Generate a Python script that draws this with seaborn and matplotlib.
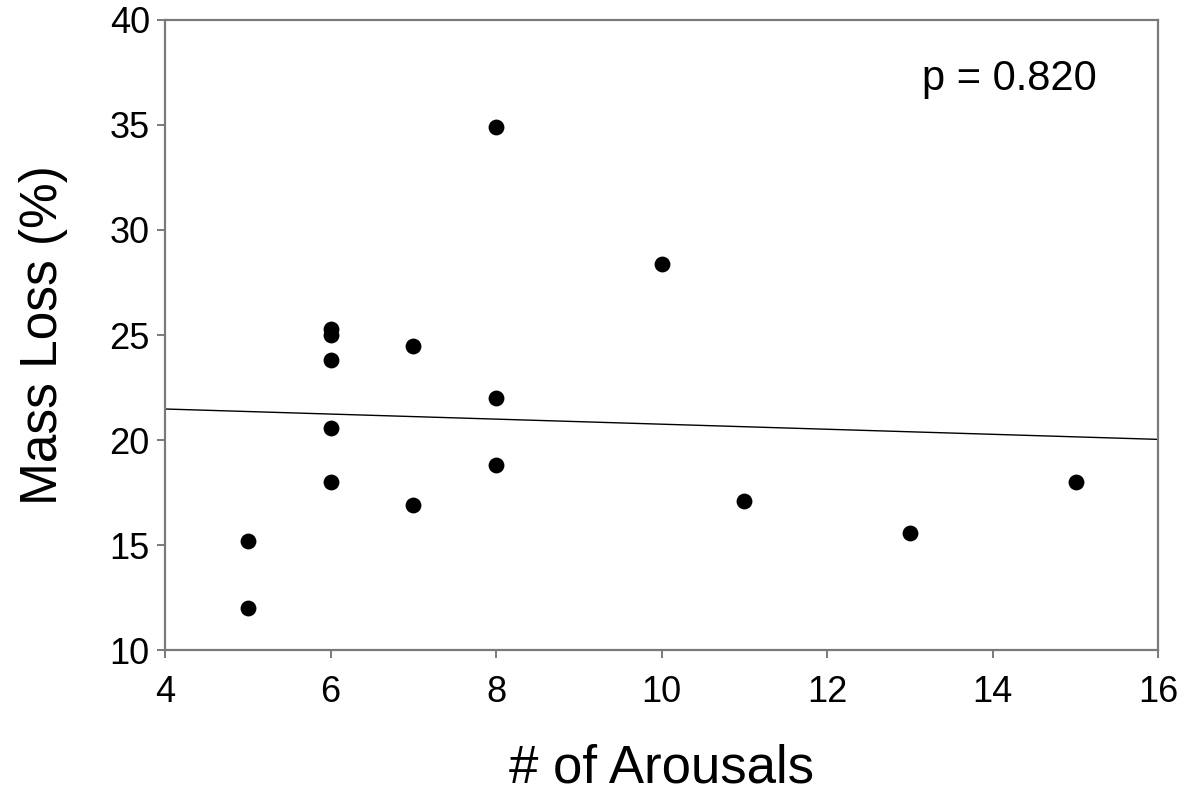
import numpy as np
import pandas as pd
import matplotlib
matplotlib.use('Agg')
import matplotlib.pyplot as plt
import seaborn as sns

# values
arousals = [5, 5, 6, 6, 6, 6, 6, 7, 7, 8, 8, 8, 10, 11, 13, 15]
mass_loss = [15.2, 12.0, 25.3, 25.0, 23.8, 20.6, 18.0, 24.5, 16.9,
             22.0, 18.8, 34.9, 28.4, 17.1, 15.6, 18.0]
x_ticks = [4, 6, 8, 10, 12, 14, 16]
y_ticks = [10, 15, 20, 25, 30, 35, 40]
p_label = 'p = 0.820'

df = pd.DataFrame({'arousals': arousals, 'mass_loss': mass_loss})

sns.set_style('ticks')
plt.rcParams['font.family'] = ['Liberation Sans', 'DejaVu Sans']
plt.rcParams['text.color'] = 'black'
plt.rcParams['axes.labelcolor'] = 'black'

fig = plt.figure(figsize=(11.88, 7.93), dpi=100)
ax = fig.add_axes([0.139, 0.180, 0.836, 0.795])
ax.set_xlim(4, 16)
ax.set_ylim(10, 40)

# scatter + least-squares line across the whole x range
sns.regplot(data=df, x='arousals', y='mass_loss', ax=ax, ci=None,
            truncate=False, color='black',
            scatter_kws={'s': 130, 'linewidths': 0, 'alpha': 1},
            line_kws={'linewidth': 1.0, 'color': 'black'})

ax.set_xlim(4, 16)
ax.set_ylim(10, 40)
ax.set_xticks(x_ticks)
ax.set_yticks(y_ticks)

for side in ['left', 'right', 'top', 'bottom']:
    ax.spines[side].set_visible(True)
    ax.spines[side].set_color('#7a7a7a')
    ax.spines[side].set_linewidth(1.6)

ax.tick_params(axis='both', direction='out', length=6, width=1.4,
               color='#7a7a7a', labelsize=26, labelcolor='black')
ax.tick_params(axis='x', pad=12)
ax.tick_params(axis='y', pad=5)

ax.set_xlabel('# of Arousals', fontsize=38, labelpad=24, color='black')
ax.set_ylabel('Mass Loss (%)', fontsize=37, labelpad=30, color='black')

ax.text(14.2, 37.2, p_label, fontsize=30, ha='center', va='center',
        color='black')

fig.savefig('out.png', dpi=100, facecolor='white')
